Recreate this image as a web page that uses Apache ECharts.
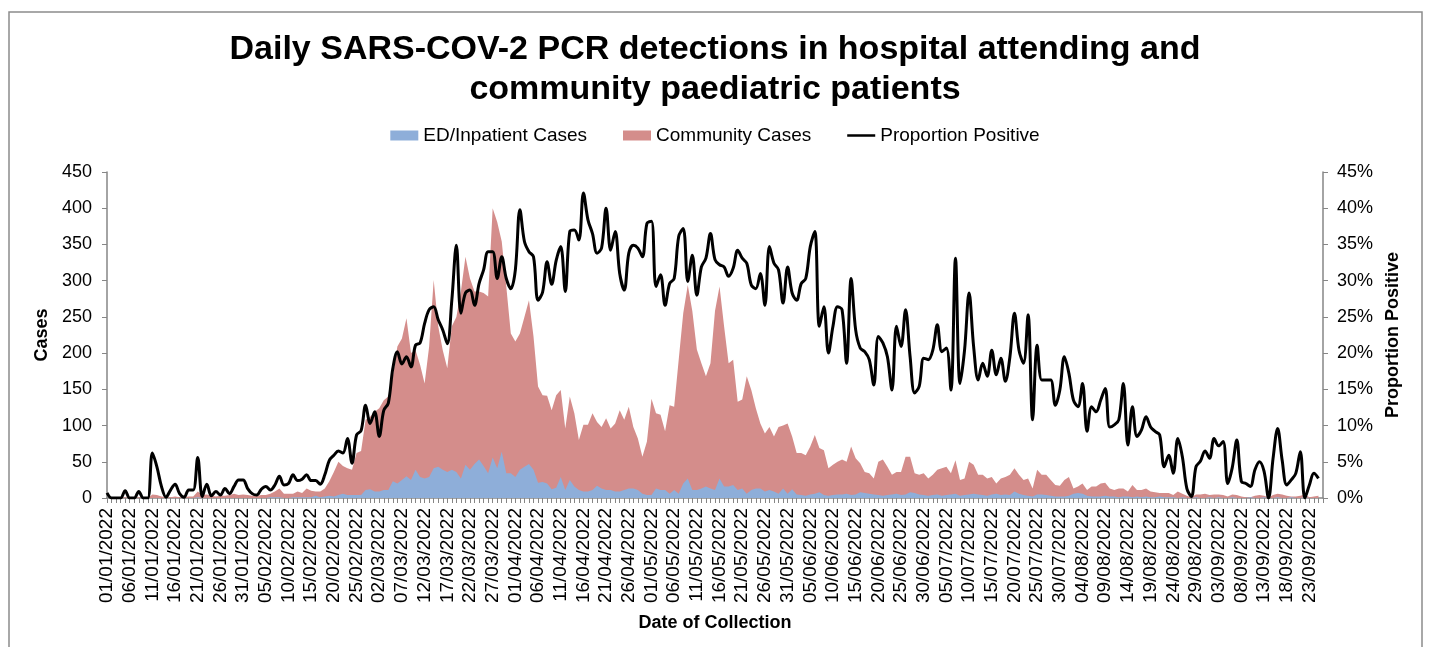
<!DOCTYPE html>
<html>
<head>
<meta charset="utf-8">
<script src="https://cdn.jsdelivr.net/npm/echarts@6/dist/echarts.min.js"></script>
<style>
html,body{margin:0;padding:0;background:#fff;}
#chart{width:1430px;height:647px;}
</style>
</head>
<body>
<div id="chart"></div>
<script>
// Daily dates 01/01/2022 .. 26/09/2022 (last category has no data)
const startDate = [2022, 0, 1];
const dayCount = 269;

// Proportion positive (%)
const proportionPositive = [
0.7,0,0,0,1.0,0,0,0.9,0,0,
6.2,4.3,1.6,0.1,1.1,1.9,0.6,0.1,1.1,1.1,
5.6,0.2,1.9,0.3,0.9,0.4,1.3,0.6,1.6,2.5,
2.5,1.3,0.6,0.4,1.2,1.6,1.1,1.8,3.0,1.8,
2.0,3.2,2.4,2.6,3.2,2.4,2.4,1.9,3.2,5.2,
5.9,6.5,6.2,8.2,4.8,8.7,9.3,12.8,10.3,11.9,
8.5,12.1,13.1,17.9,20.2,18.5,19.5,18.1,21.1,21.4,
24.1,26,26.4,24.6,23.2,21.3,27.3,34.9,25.5,28.3,
28.7,26.6,29.6,31.5,34,34,30.3,33.3,30.3,28.9,
31.5,39.8,35.4,34,33.3,27.3,28.4,32.6,29.5,32.8,
34.7,28.5,36.8,37,35.6,42.1,38.4,36.5,33.8,34.5,
40,34.2,36.8,31,28.7,33.8,34.9,34.5,33.3,37.9,
38.2,29.2,30.8,26.6,29.6,30.3,36.1,37.2,29.9,33.5,
28,31.9,33.1,36.5,32.9,32.2,31.9,30.6,31.7,34.2,
33.1,32.4,29.4,28.9,31,26.6,34.7,32.4,31.5,26.9,
31.9,28.3,27.3,29.6,30.3,34.7,36.8,23.7,26.4,20,
23.7,26.4,26,18.6,30.3,23.2,20.7,20.2,19.1,15.6,
22.3,21.4,19.5,14.9,23.7,20.9,26,19.5,14.5,15.4,
19.3,19.1,20.4,23.9,20.2,20.7,14.9,33.1,15.8,20.4,
28.3,20.9,16.3,18.6,16.8,20.4,17,19.3,16.1,19.5,
25.5,20.4,18.6,25.3,10.8,21.1,16.3,16.3,16.3,12.8,
14.9,19.5,17.2,13.5,12.6,15.8,9.2,12.6,11.9,13.5,
15.1,9.8,10.1,10.8,15.8,7.3,12.6,8.5,9.4,11.2,
9.8,9.2,8.7,4.3,5.9,3.4,8.2,5.7,1.3,0.2,
4.3,5.1,6.5,5.5,8.2,7.2,7.8,2,4.2,8,
2.3,2,1.6,3.9,5,3.7,0,5.5,9.6,5.2,
1.8,2.5,3.4,6.4,0,1.8,3.4,2.7,null
];

// Community cases
const communityCases = [
0,0,0,0,1,0,0,1,0,0,
5,4,2,1,1,2,1,1,2,2,
9,4,5,3,2,3,3,4,6,4,
5,4,3,3,4,4,6,9,13,6,
6,6,9,7,13,10,9,9,13,23,
36,50,44,41,39,62,65,108,112,119,
124,135,140,168,209,220,248,200,204,184,
158,209,301,237,204,179,237,250,285,333,
303,285,285,283,278,400,381,354,292,227,
216,227,250,273,223,154,142,141,121,142,
149,96,140,117,80,101,101,117,105,98,
110,96,103,121,108,126,98,82,57,78,
137,117,115,92,128,126,191,255,294,258,
205,186,168,186,258,292,237,186,191,133,
136,168,149,124,103,89,98,85,98,100,
103,85,62,62,59,71,87,69,66,41,
46,50,53,50,71,55,48,36,34,27,
50,53,43,32,36,36,57,57,34,32,
34,27,32,39,41,43,34,52,25,27,
50,46,32,32,27,29,20,27,29,32,
41,32,25,27,13,39,32,32,25,18,
17,25,29,13,16,20,11,16,16,20,
21,13,11,13,13,9,18,11,11,13,
9,8,7,7,7,4,9,6,3,1,
5,5,6,4,5,5,4,2,5,4,
2,1,1,3,4,3,1,4,6,5,
3,2,2,3,5,1,2,3,null
];

// ED / Inpatient cases
const edInpatientCases = [
0,0,0,0,0,0,0,0,0,0,
0,0,0,0,0,0,0,0,0,0,
1,0,0,0,0,0,0,0,0,0,
0,0,0,0,0,0,1,1,1,0,
0,1,1,1,1,1,3,1,2,3,
2,4,6,4,4,4,4,11,12,9,
9,11,11,23,20,25,30,25,39,29,
27,29,41,43,39,36,39,36,27,46,
39,47,53,44,34,56,41,64,34,34,
29,39,43,47,39,21,22,20,12,14,
29,11,25,16,11,9,9,11,17,13,
11,11,9,9,11,13,13,11,6,4,
4,13,11,11,6,11,6,20,27,11,
11,13,16,13,11,27,16,16,18,11,
13,6,11,13,13,9,11,9,6,13,
6,12,5,4,3,5,6,8,4,3,
4,5,5,6,4,5,8,7,6,5,
4,3,4,5,6,4,5,8,7,5,
4,3,4,5,3,4,5,6,3,4,
5,6,5,4,3,5,6,4,5,4,
9,6,4,3,2,5,5,4,3,2,
2,2,3,6,7,6,3,2,2,2,
3,2,2,1,2,2,1,2,1,2,
1,1,2,1,1,1,0,1,0,0,
1,0,0,1,0,1,0,0,1,0,
0,0,1,0,0,1,0,0,1,0,
0,1,0,0,1,0,0,0,null
];

const leftTicks = {min: 0, max: 450, interval: 50};
const rightTicks = {min: 0, max: 45, interval: 5};

const categories = [];
for (let i = 0; i < dayCount; i++) {
  const d = new Date(startDate[0], startDate[1], startDate[2] + i);
  const dd = String(d.getDate()).padStart(2, '0');
  const mm = String(d.getMonth() + 1).padStart(2, '0');
  categories.push(dd + '/' + mm + '/' + d.getFullYear());
}

const FONT = "'Liberation Sans', Arial, sans-serif";
const AXIS_GREY = '#868686';
const LINE_ICON = 'path://M0,0L0.01,0L0.01,0.01L0,0.01Z M0,3.8L28,3.8L28,6.3L0,6.3Z M0,9.99L0.01,9.99L0.01,10L0,10Z';

const chart = echarts.init(document.getElementById('chart'), null, {renderer: 'canvas'});
chart.setOption({
  animation: false,
  backgroundColor: '#fff',
  textStyle: {fontFamily: FONT, color: '#000'},
  title: {
    text: 'Daily SARS-COV-2 PCR detections in hospital attending and\ncommunity paediatric patients',
    left: 'center',
    top: 25,
    textStyle: {fontFamily: FONT, fontWeight: 'bold', fontSize: 34, lineHeight: 40, color: '#000'}
  },
  graphic: [{
    type: 'rect',
    shape: {x: 9, y: 12, width: 1413, height: 700},
    style: {fill: 'none', stroke: '#8c8c8c', lineWidth: 1.5},
    silent: true
  }],
  legend: {
    top: 121,
    left: 'center',
    itemWidth: 28,
    itemHeight: 10,
    itemGap: 36,
    textStyle: {fontFamily: FONT, fontSize: 19, color: '#000'},
    data: [
      {name: 'ED/Inpatient Cases', icon: 'rect'},
      {name: 'Community Cases', icon: 'rect'},
      {name: 'Proportion Positive', icon: LINE_ICON, itemStyle: {color: '#000'}}
    ]
  },
  grid: {left: 107, right: 107, top: 172, bottom: 149, containLabel: false},
  xAxis: {
    type: 'category',
    data: categories,
    boundaryGap: false,
    name: 'Date of Collection',
    nameLocation: 'middle',
    nameGap: 116,
    nameTextStyle: {fontFamily: FONT, fontWeight: 'bold', fontSize: 18, color: '#000'},
    axisLine: {lineStyle: {color: AXIS_GREY, width: 1.5}},
    axisTick: {show: true, interval: 0, length: 5, lineStyle: {color: AXIS_GREY}},
    axisLabel: {interval: 4, rotate: 90, margin: 10, fontFamily: FONT, fontSize: 19, color: '#000'}
  },
  yAxis: [{
    type: 'value',
    min: leftTicks.min, max: leftTicks.max, interval: leftTicks.interval,
    name: 'Cases',
    nameLocation: 'middle',
    nameRotate: 90,
    nameGap: 54,
    nameTextStyle: {fontFamily: FONT, fontWeight: 'bold', fontSize: 18, color: '#000'},
    axisLine: {show: true, lineStyle: {color: AXIS_GREY, width: 1.5}},
    axisTick: {show: true, length: 5, lineStyle: {color: AXIS_GREY}},
    axisLabel: {margin: 15, fontFamily: FONT, fontSize: 18, color: '#000'},
    splitLine: {show: false}
  }, {
    type: 'value',
    min: rightTicks.min, max: rightTicks.max, interval: rightTicks.interval,
    name: 'Proportion Positive',
    nameLocation: 'middle',
    nameRotate: 90,
    nameGap: 60,
    nameTextStyle: {fontFamily: FONT, fontWeight: 'bold', fontSize: 18, color: '#000'},
    axisLine: {show: true, lineStyle: {color: AXIS_GREY, width: 1.5}},
    axisTick: {show: true, length: 5, lineStyle: {color: AXIS_GREY}},
    axisLabel: {margin: 14, fontFamily: FONT, fontSize: 18, color: '#000', formatter: '{value}%'},
    splitLine: {show: false}
  }],
  series: [{
    name: 'Community Cases',
    type: 'line',
    data: communityCases,
    yAxisIndex: 0,
    symbol: 'none',
    lineStyle: {width: 0},
    itemStyle: {color: '#D48D8B'},
    areaStyle: {color: '#D48D8B', opacity: 1},
    z: 1
  }, {
    name: 'ED/Inpatient Cases',
    type: 'line',
    data: edInpatientCases,
    yAxisIndex: 0,
    symbol: 'none',
    lineStyle: {width: 0},
    itemStyle: {color: '#8EAED9'},
    areaStyle: {color: '#8EAED9', opacity: 1},
    z: 2
  }, {
    name: 'Proportion Positive',
    type: 'line',
    data: proportionPositive,
    yAxisIndex: 1,
    symbol: 'none',
    smooth: 0.35,
    clip: true,
    lineStyle: {width: 3, color: '#000'},
    itemStyle: {color: '#000'},
    z: 3
  }]
});
</script>
</body>
</html>
